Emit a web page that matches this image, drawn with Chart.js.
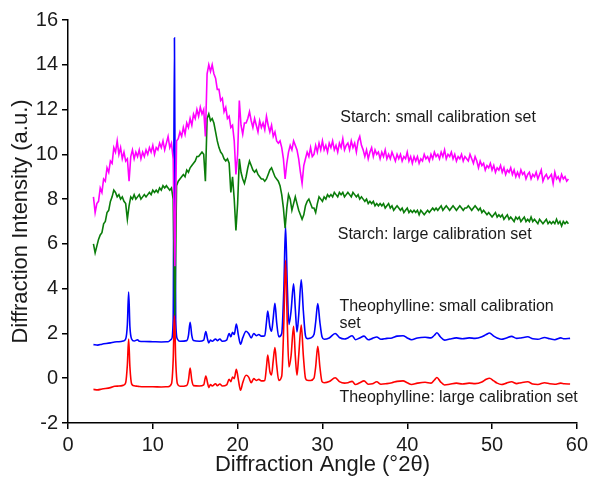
<!DOCTYPE html>
<html>
<head>
<meta charset="utf-8">
<script src="https://cdn.jsdelivr.net/npm/chart.js@4/dist/chart.umd.min.js"></script>
<style>
  html, body { margin: 0; padding: 0; background: #fff; }
</style>
</head>
<body>
<canvas id="chart-xrd" width="592" height="477"></canvas>
<script>
// starch scans: recorded on a 0.2 degree grid starting at 3.0
const starchStart = 3.0;
const starchStep = 0.2;

const starchSmall = [
    8.1, 7.4, 7.8, 7.9, 8.5, 8.3, 8.9, 8.8, 9.4, 9.2,
    9.7, 9.6, 10.3, 10.1, 10.6, 10.0, 10.3, 9.8, 10.1, 9.7,
    9.8, 8.8, 9.9, 10.2, 9.8, 10.1, 9.9, 10.2, 9.8, 10.1,
    9.9, 10.2, 10.0, 10.3, 10.1, 10.4, 10.0, 10.3, 10.2, 10.5,
    10.3, 10.6, 10.2, 10.5, 10.8, 10.3, 10.5, 9.8, 5.0, 10.6,
    10.7, 11.0, 10.8, 11.2, 10.9, 11.4, 11.2, 11.6, 11.3, 11.8,
    11.6, 12.0, 11.7, 12.1, 11.8, 12.0, 10.8, 13.6, 14.0, 13.7,
    14.0, 13.6, 13.4, 12.9, 12.9, 12.4, 12.5, 11.9, 12.1, 11.6,
    11.7, 11.2, 11.3, 10.6, 9.1, 10.0, 12.4, 11.3, 10.9, 11.4,
    11.4, 11.6, 11.9, 11.5, 11.2, 11.6, 11.3, 11.0, 11.5, 11.2,
    11.4, 11.1, 11.7, 11.3, 11.0, 11.3, 10.8, 11.0, 10.6, 10.5,
    10.6, 10.3, 9.8, 8.9, 9.6, 10.1, 10.4, 10.2, 10.6, 10.4,
    10.2, 9.8, 9.2, 8.7, 9.5, 9.8, 10.1, 9.9, 10.3, 9.9,
    10.0, 10.4, 10.1, 10.5, 10.2, 10.6, 10.2, 10.4, 10.1, 10.5,
    10.3, 10.6, 10.2, 10.4, 10.1, 10.5, 10.3, 10.7, 10.2, 10.4,
    10.5, 10.2, 10.6, 10.3, 10.5, 10.1, 10.6, 10.8, 10.4, 10.2,
    9.9, 10.2, 9.8, 10.1, 10.3, 9.9, 10.2, 10.0, 10.1, 9.8,
    10.1, 9.9, 10.2, 9.8, 10.0, 9.8, 10.1, 9.9, 9.7, 10.0,
    9.8, 10.0, 9.7, 9.9, 9.8, 10.1, 9.7, 9.9, 9.6, 9.9,
    9.7, 9.9, 9.6, 9.8, 9.7, 10.0, 9.8, 9.9, 9.7, 10.0,
    9.8, 10.1, 9.9, 10.0, 9.8, 10.1, 9.9, 10.2, 9.8, 10.0,
    9.9, 10.1, 9.8, 10.0, 9.7, 9.9, 9.8, 10.0, 9.7, 9.9,
    9.8, 9.7, 10.0, 9.8, 9.6, 9.9, 9.7, 9.4, 9.7, 9.5,
    9.6, 9.3, 9.5, 9.4, 9.6, 9.3, 9.5, 9.2, 9.4, 9.3,
    9.5, 9.2, 9.4, 9.1, 9.3, 9.2, 9.4, 9.1, 9.3, 9.0,
    9.2, 9.0, 9.3, 9.1, 9.2, 8.9, 9.1, 9.2, 8.9, 9.1,
    9.0, 9.2, 8.9, 9.1, 9.3, 8.8, 9.0, 9.1, 8.9, 9.0,
    9.1, 8.7, 9.2, 8.9, 9.0, 8.8, 9.1, 8.9, 9.0, 8.8,
    8.9,
];

const starchLarge = [
    6.0, 5.6, 5.9, 6.2, 6.4, 6.5, 6.9, 7.0, 7.4, 7.5,
    7.9, 8.1, 8.4, 8.3, 8.1, 8.2, 8.0, 8.1, 7.9, 7.8,
    7.1, 7.7, 8.1, 8.0, 8.2, 8.0, 8.1, 8.2, 8.0, 8.1,
    8.2, 8.1, 8.2, 8.3, 8.2, 8.4, 8.3, 8.4, 8.3, 8.5,
    8.4, 8.6, 8.5, 8.6, 8.5, 8.4, 8.5, 8.0, 2.8, 8.6,
    8.8, 8.9, 9.0, 9.1, 9.0, 9.3, 9.2, 9.4, 9.5, 9.6,
    9.7, 9.9, 9.9, 10.0, 10.1, 10.0, 8.8, 11.6, 11.8, 11.5,
    11.6, 11.4, 11.0, 10.6, 10.3, 10.1, 10.0, 9.8, 9.7, 9.8,
    9.6, 8.3, 9.0, 8.0, 6.6, 7.8, 9.8, 9.2, 8.9, 8.7,
    9.0, 9.4, 9.7, 9.5, 9.3, 9.2, 9.3, 9.1, 9.0, 8.9,
    8.9, 8.8, 8.9, 9.1, 9.3, 9.4, 9.2, 9.0, 8.9, 8.8,
    8.6, 8.2, 7.6, 6.7, 7.6, 8.2, 8.0, 7.5, 7.8, 8.1,
    7.8, 7.5, 7.3, 7.1, 7.3, 7.7, 7.9, 8.0, 7.8, 7.6,
    7.6, 7.4, 7.8, 8.1, 8.0, 7.9, 8.1, 8.0, 8.2, 8.1,
    8.2, 8.1, 8.3, 8.2, 8.1, 8.3, 8.2, 8.3, 8.1, 8.2,
    8.3, 8.2, 8.1, 8.3, 8.2, 8.1, 8.2, 8.0, 8.1, 8.0,
    7.9, 8.0, 7.8, 7.9, 7.8, 7.9, 7.7, 7.8, 7.7, 7.8,
    7.7, 7.8, 7.6, 7.7, 7.8, 7.6, 7.7, 7.5, 7.6, 7.7,
    7.6, 7.5, 7.6, 7.4, 7.5, 7.6, 7.4, 7.5, 7.4, 7.5,
    7.4, 7.5, 7.3, 7.5, 7.4, 7.3, 7.4, 7.5, 7.4, 7.5,
    7.6, 7.5, 7.6, 7.5, 7.6, 7.7, 7.5, 7.6, 7.7, 7.6,
    7.5, 7.6, 7.7, 7.6, 7.5, 7.6, 7.7, 7.6, 7.5, 7.6,
    7.6, 7.7, 7.6, 7.5, 7.6, 7.7, 7.6, 7.5, 7.6, 7.4,
    7.5, 7.4, 7.3, 7.4, 7.3, 7.2, 7.3, 7.4, 7.2, 7.3,
    7.2, 7.3, 7.1, 7.2, 7.3, 7.1, 7.2, 7.1, 7.0, 7.2,
    7.1, 7.2, 7.0, 7.1, 7.2, 7.0, 7.1, 7.0, 7.2, 7.0,
    7.1, 7.0, 6.9, 7.1, 7.0, 6.9, 7.0, 7.1, 6.9, 7.0,
    6.9, 7.0, 6.9, 7.1, 6.9, 7.0, 6.8, 7.0, 6.9, 7.0,
    6.9,
];

// theophylline patterns: peak positions (degrees 2theta) and intensities
const theoAngle = [
    3.0, 3.5, 4.0, 5.0, 5.5, 6.0, 6.5, 6.8, 7.0, 7.15, 7.3, 7.5, 7.8, 8.2, 8.4,
    9.0, 10.0, 11.0, 11.8, 12.2, 12.4, 12.55, 12.7, 12.9, 13.2, 14.0, 14.2, 14.4, 14.6, 14.8,
    15.5, 16.0, 16.25, 16.45, 16.6, 16.8, 17.0, 17.4, 17.6, 17.9, 18.2, 18.7, 19.0, 19.2, 19.4,
    19.6, 19.85, 20.1, 20.35, 20.6, 21.0, 21.3, 21.6, 21.9, 22.2, 22.5, 22.8, 23.2, 23.4, 23.55,
    23.8, 24.0, 24.2, 24.4, 24.6, 24.85, 25.2, 25.45, 25.65, 25.85, 26.05, 26.3, 26.6, 26.8, 27.0,
    27.2, 27.5, 27.75, 28.0, 28.2, 28.6, 29.0, 29.2, 29.45, 29.7, 29.95, 30.2, 30.8, 31.5, 32.0,
    32.6, 33.0, 33.5, 33.9, 34.4, 34.9, 35.4, 35.9, 36.4, 36.9, 37.6, 38.2, 38.8, 39.5, 40.0,
    40.5, 41.2, 42.1, 42.8, 43.2, 43.5, 43.9, 44.4, 45.0, 45.8, 46.5, 47.3, 48.0, 48.8, 49.3,
    49.7, 50.2, 50.6, 51.1, 51.7, 52.3, 52.9, 53.4, 54.2, 54.8, 55.4, 56.2, 56.8, 57.4, 58.1,
    58.5, 59.2,
];

const theoSmall = [
    1.5, 1.48, 1.52, 1.58, 1.62, 1.63, 1.66, 1.75, 2.4, 3.85, 2.3, 1.75, 1.66, 1.72, 1.65,
    1.64, 1.63, 1.62, 1.63, 1.75, 2.6, 15.2, 2.6, 1.75, 1.65, 1.68, 1.9, 2.5, 1.9, 1.68,
    1.65, 1.7, 2.08, 1.75, 1.58, 1.7, 1.65, 1.75, 1.68, 1.75, 1.65, 1.7, 2.0, 1.85, 2.05,
    1.95, 2.42, 1.9, 1.52, 1.8, 2.1, 2.0, 1.8, 2.0, 1.9, 1.95, 1.88, 1.9, 2.5, 3.0,
    2.3, 2.1, 2.7, 3.35, 2.5, 1.85, 2.0, 4.0, 6.8, 4.2, 2.4, 3.0, 4.22, 3.1, 2.07,
    2.8, 4.4, 3.0, 1.9, 1.77, 1.8, 1.95, 2.5, 3.33, 2.5, 1.85, 1.74, 1.8, 2.0, 1.82,
    1.75, 1.8, 1.9, 1.72, 1.8, 1.88, 1.72, 1.78, 1.84, 1.74, 1.78, 1.8, 1.88, 1.9, 1.8,
    1.72, 1.8, 1.83, 1.8, 1.92, 2.03, 1.85, 1.7, 1.75, 1.8, 1.76, 1.8, 1.78, 1.85, 1.95,
    2.02, 1.88, 1.8, 1.74, 1.8, 1.87, 1.78, 1.8, 1.85, 1.76, 1.74, 1.82, 1.76, 1.72, 1.8,
    1.76, 1.78,
];

const theoLarge = [
    -0.5, -0.52, -0.48, -0.42, -0.36, -0.35, -0.32, -0.2, 0.6, 1.75, 0.5, -0.25, -0.34, -0.36, -0.37,
    -0.38, -0.38, -0.39, -0.38, -0.25, 0.8, 2.9, 0.8, -0.25, -0.36, -0.32, -0.1, 0.45, -0.1, -0.33,
    -0.35, -0.3, 0.1, -0.2, -0.42, -0.28, -0.35, -0.25, -0.33, -0.26, -0.35, -0.3, -0.05, -0.15, 0.05,
    -0.02, 0.4, -0.1, -0.54, -0.2, 0.13, 0.05, -0.2, -0.02, -0.1, -0.05, -0.12, -0.1, 0.5, 1.03,
    0.3, 0.15, 0.8, 1.37, 0.6, -0.1, 0.1, 2.5, 5.27, 2.5, 0.5, 1.0, 2.32, 1.0, 0.13,
    1.0, 2.37, 1.0, 0.0, -0.09, -0.1, 0.0, 0.5, 1.43, 0.5, -0.15, -0.2, -0.15, 0.02, -0.15,
    -0.22, -0.2, -0.14, -0.28, -0.2, -0.12, -0.27, -0.25, -0.16, -0.27, -0.24, -0.2, -0.14, -0.12, -0.2,
    -0.28, -0.22, -0.18, -0.22, -0.08, 0.03, -0.15, -0.3, -0.27, -0.22, -0.26, -0.22, -0.24, -0.17, -0.05,
    0.0, -0.12, -0.22, -0.28, -0.22, -0.16, -0.24, -0.2, -0.16, -0.26, -0.28, -0.2, -0.25, -0.27, -0.22,
    -0.25, -0.26,
];

// curve labels, anchored in data units (left edge, vertical middle)
const curveLabels = [
    { text: "Starch: small calibration set", x: 32.1, y: 11.62 },
    { text: "Starch: large calibration set", x: 31.8, y: 6.42 },
    { text: "Theophylline: small calibration", x: 32.0, y: 3.22 },
    { text: "set", x: 32.0, y: 2.42 },
    { text: "Theophylline: large calibration set", x: 32.0, y: -0.88 },
];

const FONT = "'Liberation Sans', Arial, sans-serif";

const starchPoints = (values) =>
    values.map((v, i) => ({ x: +(starchStart + i * starchStep).toFixed(2), y: v }));
const theoPoints = (values) => values.map((v, i) => ({ x: theoAngle[i], y: v }));

const labelPlugin = {
    id: "curveLabels",
    afterDatasetsDraw(chart) {
        const { ctx, scales } = chart;
        ctx.save();
        ctx.font = "16px " + FONT;
        ctx.fillStyle = "#1a1a1a";
        ctx.textAlign = "left";
        ctx.textBaseline = "middle";
        curveLabels.forEach((l) => {
            ctx.fillText(l.text, scales.x.getPixelForValue(l.x), scales.y.getPixelForValue(l.y));
        });
        ctx.restore();
    },
};

const lineStyle = (label, color, data, width, smooth) => ({
    label: label,
    data: data,
    borderColor: color,
    borderWidth: width,
    pointRadius: 0,
    tension: 0,
    cubicInterpolationMode: smooth ? "monotone" : "default",
    fill: false,
});

// first dataset is painted last (on top)
const chartXrd = new Chart(document.getElementById("chart-xrd"), {
    type: "line",
    data: {
        datasets: [
            lineStyle("Starch: small calibration set", "#ff00ff", starchPoints(starchSmall), 1.6, false),
            lineStyle("Starch: large calibration set", "#0a7d0a", starchPoints(starchLarge), 1.6, false),
            lineStyle("Theophylline: large calibration set", "#ff0000", theoPoints(theoLarge), 1.6, true),
            lineStyle("Theophylline: small calibration set", "#0000ff", theoPoints(theoSmall), 1.6, true),
        ],
    },
    options: {
        responsive: false,
        animation: false,
        layout: {
            padding: { left: 0, right: 13, top: 20, bottom: 0 },
        },
        plugins: {
            legend: { display: false },
            tooltip: { enabled: false },
        },
        scales: {
            x: {
                type: "linear",
                min: 0,
                max: 60,
                afterFit: (scale) => { scale.height = 54; },
                border: { display: true, color: "#000", width: 1.5 },
                grid: { drawOnChartArea: false, color: "#000", tickLength: 6, lineWidth: 1.5 },
                ticks: {
                    stepSize: 10,
                    padding: 4,
                    color: "#1a1a1a",
                    font: { family: FONT, size: 20 },
                    maxRotation: 0,
                },
                title: {
                    display: true,
                    text: "Diffraction Angle (°2θ)",
                    color: "#1a1a1a",
                    font: { family: FONT, size: 22, lineHeight: 1 },
                    padding: { top: 0, bottom: 1 },
                },
            },
            y: {
                type: "linear",
                min: -2,
                max: 16,
                afterFit: (scale) => { scale.width = 68; },
                border: { display: true, color: "#000", width: 1.5 },
                grid: { drawOnChartArea: false, color: "#000", tickLength: 6, lineWidth: 1.5 },
                ticks: {
                    stepSize: 2,
                    padding: 4,
                    color: "#1a1a1a",
                    font: { family: FONT, size: 20 },
                },
                title: {
                    display: true,
                    text: "Diffraction Intensity (a.u.)",
                    color: "#1a1a1a",
                    font: { family: FONT, size: 22, lineHeight: 1 },
                    padding: { top: 10, bottom: 0 },
                },
            },
        },
    },
    plugins: [labelPlugin],
});
</script>
</body>
</html>
